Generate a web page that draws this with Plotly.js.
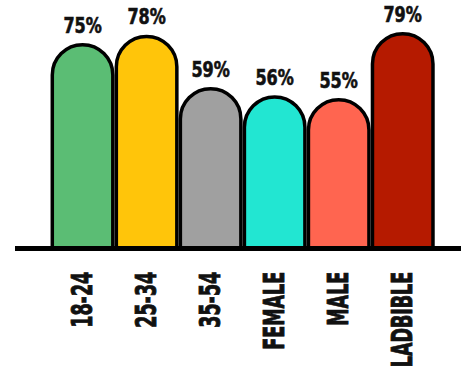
<!DOCTYPE html>
<html>
<head>
<meta charset="utf-8">
<script src="https://cdn.plot.ly/plotly-3.0.1.min.js"></script>
<style>
  html, body { margin: 0; padding: 0; background: #ffffff; }
  #chart { width: 461px; height: 372px; }
  /* heavier poster-style lettering */
  #chart .xtick text { stroke: #111111; stroke-width: 0.9px; }
  #chart .annotation-text { stroke: #111111; stroke-width: 0.6px; }
</style>
</head>
<body>
<div id="chart"></div>
<script>
// Audience groups and their share (%)
const categories = ['18-24', '25-34', '35-54', 'FEMALE', 'MALE', 'LADBIBLE'];
const shares = [75, 78, 59, 56, 55, 79];
const barColors = ['#5bbd74', '#ffc50a', '#a0a0a0', '#22e6d2', '#ff6550', '#b51a00'];
const valueLabels = shares.map(v => v + '%');

const FONT = '"DejaVu Sans Condensed", "Liberation Sans Narrow", sans-serif';

const trace = {
  type: 'bar',
  x: categories,
  y: shares,
  marker: {
    color: barColors,
    cornerradius: '50%',
    line: { color: '#000000', width: 3.5 }
  },
  hoverinfo: 'skip',
  cliponaxis: false
};

// Value labels above each bar
const annotations = categories.map((c, i) => ({
  x: c,
  y: shares[i],
  xref: 'x',
  yref: 'y',
  text: valueLabels[i],
  showarrow: false,
  yanchor: 'bottom',
  yshift: 5,
  font: { family: FONT, size: 21, color: '#111111', weight: 'bold' }
}));

const layout = {
  width: 461,
  height: 372,
  margin: { l: 15, r: 0, t: 10, b: 121 },
  paper_bgcolor: '#ffffff',
  plot_bgcolor: '#ffffff',
  showlegend: false,
  bargap: 0.055,
  xaxis: {
    type: 'category',
    range: [-1.055, 5.91],
    showgrid: false,
    zeroline: false,
    showline: false,
    ticks: '',
    tickangle: -90,
    ticklabelstandoff: 14,
    tickfont: { family: FONT, size: 29, color: '#111111', weight: 'bold' },
    fixedrange: true
  },
  yaxis: {
    range: [0, 87.6],
    visible: false,
    fixedrange: true
  },
  shapes: [{
    type: 'line',
    xref: 'paper', yref: 'y',
    x0: 0, x1: 1, y0: 0, y1: 0,
    line: { color: '#000000', width: 10 },
    layer: 'above'
  }],
  annotations: annotations
};

// Squeeze glyphs horizontally to get a tall, condensed poster lettering
function condense(selector, factor) {
  document.querySelectorAll(selector).forEach(el => {
    const len = el.getComputedTextLength();
    el.setAttribute('textLength', (len * factor).toFixed(1));
    el.setAttribute('lengthAdjust', 'spacingAndGlyphs');
  });
}

Plotly.newPlot('chart', [trace], layout, { displayModeBar: false, staticPlot: true })
  .then(() => {
    condense('#chart .xtick text', 0.67);
    condense('#chart .annotation-text', 0.85);
  });
</script>
</body>
</html>
